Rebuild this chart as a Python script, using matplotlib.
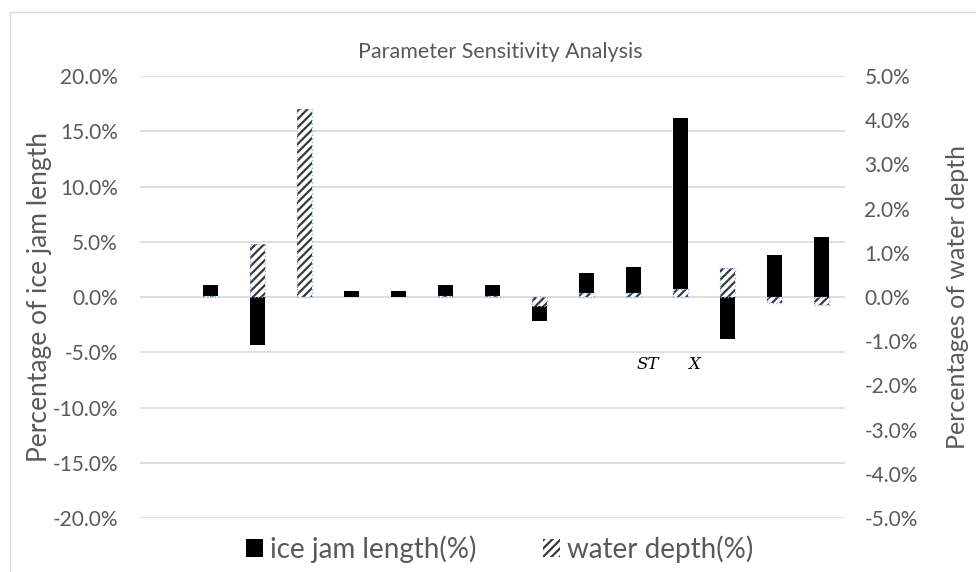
import numpy as np
import matplotlib.pyplot as plt
from matplotlib.patches import Rectangle
from matplotlib.ticker import FuncFormatter, MultipleLocator

# Sensitivity results per parameter (first slot is empty)
categories = np.arange(15)
ice_jam_length = [np.nan, 1.1, -4.3, 0, 0.5, 0.5, 1.1, 1.1, -2.2, 2.2, 2.7, 16.2, -3.8, 3.8, 5.4]
water_depth = [np.nan, 0.02, 1.2, 4.25, 0, 0, 0.02, 0.02, -0.2, 0.1, 0.1, 0.18, 0.66, -0.14, -0.17]

gray = '#595959'
plt.rcParams['font.family'] = ['Lato', 'DejaVu Sans']
plt.rcParams['hatch.linewidth'] = 1.6

fig = plt.figure(figsize=(9.76, 5.72), dpi=100)
# chart area border
fig.patches.append(Rectangle((10 / 976, -0.1), 1.2, 1.1 - 12 / 572, transform=fig.transFigure,
                             fill=False, edgecolor='#d9d9d9', linewidth=1))

ax = fig.add_axes([140 / 976, 1 - 518 / 572, 705 / 976, 442 / 572])
ax2 = ax.twinx()

bar_w = 0.32
ax.bar(categories, ice_jam_length, width=bar_w, color='black', zorder=2)
ax.set_ylim(-20, 20)
ax.set_xlim(-0.5, 14.5)
ax.yaxis.set_major_locator(MultipleLocator(5))
ax.yaxis.set_major_formatter(FuncFormatter(lambda v, p: f'{v:.1f}%'))
ax.grid(axis='y', color='#d9d9d9', linewidth=1.2, zorder=0)
ax.set_axisbelow(True)
ax.set_xticks([])

# hatched series on the secondary axis, drawn on top
wd = np.array(water_depth)
ax2.bar(categories, wd, width=bar_w, color='white', hatch='////',
        edgecolor='#3a3a3a', linewidth=0, zorder=3)
nz = np.nan_to_num(wd) != 0
ax2.bar(categories[nz], wd[nz], width=bar_w, fill=False, edgecolor='#8db4e2',
        linewidth=1, linestyle=':', zorder=4)
ax2.set_ylim(-5, 5)
ax2.yaxis.set_major_locator(MultipleLocator(1))
ax2.yaxis.set_major_formatter(FuncFormatter(lambda v, p: f'{v:.1f}%'))

for a in (ax, ax2):
    for s in a.spines.values():
        s.set_visible(False)
    a.tick_params(length=0, labelsize=15, labelcolor=gray)
ax.tick_params(axis='y', pad=16)
ax2.tick_params(axis='y', pad=14)

ax.set_ylabel('Percentage of ice jam length', fontsize=19, color=gray, labelpad=0)
ax2.set_ylabel('Percentages of water depth', fontsize=18, color=gray, labelpad=20)

fig.text(0.513, 1 - 52 / 572, 'Parameter Sensitivity Analysis', fontsize=15.5,
         color=gray, ha='center', va='center')

# parameter symbols placed under two of the bars
ax.text(10.3, -6.1, 'ST', fontsize=12, family='DejaVu Serif', style='italic', ha='center', va='center')
ax.text(11.28, -6.1, 'X', fontsize=12, family='DejaVu Serif', style='italic', ha='center', va='center')

# legend
h1 = Rectangle((0, 0), 1, 1, facecolor='black')
h2 = Rectangle((0, 0), 1, 1, facecolor='white', hatch='////', edgecolor='#3a3a3a', linewidth=0)
leg = fig.legend([h1, h2], ['ice jam length(%)', 'water depth(%)'], loc='center',
                 bbox_to_anchor=(0.512, 1 - 549 / 572), ncol=2, frameon=False, fontsize=20,
                 handlelength=0.6, handleheight=0.6, handletextpad=0.25, columnspacing=2.4)
for t in leg.get_texts():
    t.set_color(gray)

fig.savefig('out.png', dpi=100)
